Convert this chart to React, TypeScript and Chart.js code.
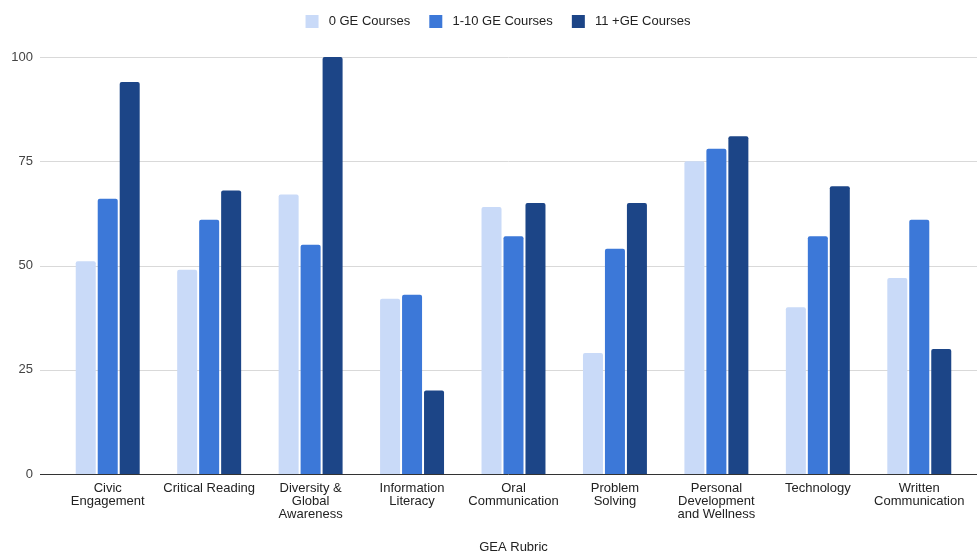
import React, { useEffect, useRef } from "react";
import { Chart, registerables } from "chart.js";

Chart.register(...registerables);

const categories: string[][] = [
  ["Civic", "Engagement"],
  ["Critical Reading"],
  ["Diversity &", "Global", "Awareness"],
  ["Information", "Literacy"],
  ["Oral", "Communication"],
  ["Problem", "Solving"],
  ["Personal", "Development", "and Wellness"],
  ["Technology"],
  ["Written", "Communication"],
];

const seriesNames = ["0 GE Courses", "1-10 GE Courses", "11 +GE Courses"];
const zeroGE = [51, 49, 67, 42, 64, 29, 75, 40, 47];
const oneToTenGE = [66, 61, 55, 43, 57, 54, 78, 57, 61];
const elevenPlusGE = [94, 68, 100, 20, 65, 65, 81, 69, 30];
const seriesColors = ["#c9daf8", "#3c78d8", "#1c4587"];

const yTicks = [0, 25, 50, 75, 100];
const xTitle = "GEA Rubric";

const FONT = "'Liberation Sans', Arial, Helvetica, sans-serif";

const fullGrid = {
  id: "fullGrid",
  afterLayout(chart: any) {
    if (chart.legend) {
      chart.legend.left += 13;
      chart.legend.right += 13;
    }
  },
  beforeDatasetsDraw(chart: any) {
    const y = chart.scales.y;
    const ctx = chart.ctx;
    ctx.save();
    for (const v of yTicks) {
      const py = Math.round(y.getPixelForValue(v)) + 0.5;
      ctx.beginPath();
      ctx.strokeStyle = v === 0 ? "#333333" : "#d9d9d9";
      ctx.lineWidth = 1;
      ctx.moveTo(40, py);
      ctx.lineTo(chart.width, py);
      ctx.stroke();
    }
    ctx.restore();
  },
};

export default function App() {
  const ref = useRef<HTMLCanvasElement | null>(null);
  useEffect(() => {
    if (!ref.current) return;
    Chart.defaults.font.family = FONT;
    const datasets = [zeroGE, oneToTenGE, elevenPlusGE].map((d, i) => ({
      label: seriesNames[i],
      data: d,
      backgroundColor: seriesColors[i],
      borderRadius: 2,
      borderSkipped: "start" as const,
      categoryPercentage: 0.65,
      barPercentage: 0.91,
    }));
    const defaultLabels = Chart.defaults.plugins.legend.labels.generateLabels;
    const chart = new Chart(ref.current, {
      type: "bar",
      data: { labels: categories, datasets },
      plugins: [fullGrid],
      options: {
        responsive: false,
        animation: false,
        layout: { padding: { top: -4, right: 7, left: 0, bottom: 0 } },
        plugins: {
          legend: {
            position: "top",
            labels: {
              boxWidth: 13,
              boxHeight: 13,
              padding: 19,
              color: "#222222",
              font: { size: 13, family: FONT },
              generateLabels(c: any) {
                return defaultLabels(c).map((l: any) => ({ ...l, text: " " + l.text }));
              },
            },
          },
          title: {
            display: true,
            text: " ",
            position: "top",
            weight: 500,
            font: { size: 10, family: FONT, lineHeight: 1 },
            padding: { top: 9, bottom: 0 },
          },
          tooltip: { enabled: false },
        },
        scales: {
          x: {
            grid: { display: false, drawTicks: false },
            border: { display: false },
            ticks: {
              color: "#222222",
              font: { size: 13, family: FONT, lineHeight: 1.0 },
              padding: 8,
              maxRotation: 0,
              autoSkip: false,
            },
            title: {
              display: true,
              text: xTitle,
              color: "#222222",
              font: { size: 13, family: FONT },
              padding: { top: 0, bottom: 0 },
            },
            afterFit(scale: any) {
              scale.height = 81;
            },
          },
          y: {
            min: 0,
            max: 100,
            grid: { display: false, drawTicks: false },
            border: { display: false },
            ticks: {
              stepSize: 25,
              color: "#444444",
              font: { size: 13, family: FONT },
              padding: 24,
            },
            afterFit(scale: any) {
              scale.width = 57;
            },
          },
        },
      },
    });
    return () => chart.destroy();
  }, []);
  return (
    <div style={{ position: "absolute", left: 0, top: 0, width: 977, height: 555, background: "#fff" }}>
      <canvas ref={ref} width={977} height={555} />
    </div>
  );
}
